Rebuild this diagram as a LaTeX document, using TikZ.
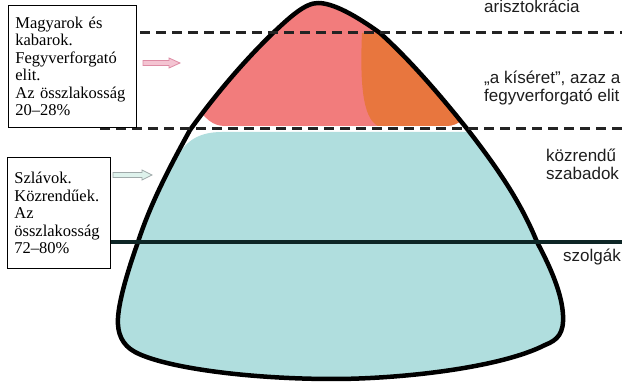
\documentclass[tikz,border=0pt]{standalone}
\usepackage{fontspec}
\setmainfont{Liberation Serif}
\newfontfamily\labelfont{Liberation Sans}
\definecolor{pinkc}{RGB}{242,124,124}
\definecolor{orangec}{RGB}{232,118,62}
\definecolor{tealc}{RGB}{176,222,222}
\definecolor{dashc}{RGB}{35,35,35}
\definecolor{solidc}{RGB}{14,38,38}
\definecolor{labc}{RGB}{30,30,30}
\definecolor{parrowfill}{RGB}{244,196,210}
\definecolor{parrowdraw}{RGB}{222,140,165}
\definecolor{garrowfill}{RGB}{222,242,236}
\definecolor{garrowdraw}{RGB}{160,170,170}
\newcommand\bellpath{(135,352) .. controls (122,345) and (117,333) .. (118,318)
 .. controls (119,300) and (128,270) .. (138,242)
 .. controls (150,205) and (168,170) .. (190,130)
 .. controls (215,95) and (245,60) .. (273,33)
 .. controls (290,17) and (305,3) .. (318,3)
 .. controls (333,3) and (355,15) .. (380,33)
 .. controls (410,60) and (440,95) .. (468,130)
 .. controls (495,165) and (520,200) .. (537,242)
 .. controls (552,270) and (562,295) .. (563,315)
 .. controls (564,333) and (558,340) .. (545,345)
 .. controls (500,368) and (400,379) .. (333,379)
 .. controls (250,379) and (165,368) .. (135,352) -- cycle}
\begin{document}
\begin{tikzpicture}[x=1pt,y=-1pt,
  outline/.style={line width=4.5pt, draw=black, line join=round},
  divider/.style={line width=3pt, draw=dashc, dash pattern=on 10pt off 6pt},
  level/.style={line width=4pt, draw=solidc},
  infobox/.style={draw=black, line width=0.8pt, fill=white, align=left, inner xsep=7pt, inner ysep=0pt, anchor=north west, font=\fontsize{16.5}{17.5}\selectfont},
  lbl/.style={font=\labelfont\fontsize{17}{18}\selectfont, align=left, anchor=base west, inner sep=0pt, text=labc}]
\fill[white] (0,0) rectangle (622,387);
\useasboundingbox (0,0) rectangle (622,387);
\begin{scope}
  \clip \bellpath;
  \fill[pinkc] (100,-10) -- (600,-10) -- (600,100) -- (470,112) .. controls (462,122) and (455,126) .. (445,126) -- (225,126) .. controls (212,126) and (205,118) .. (195,105) -- (100,40) -- cycle;
  \fill[orangec] (362,33) .. controls (360,80) and (362,118) .. (378,126) -- (445,126) .. controls (455,126) and (462,122) .. (470,112) -- (600,100) -- (600,33) -- cycle;
  \fill[tealc] (222,132) -- (600,132) -- (600,400) -- (50,400) -- (50,200) -- (176,160) .. controls (185,140) and (200,132) .. (222,132) -- cycle;
\end{scope}
\draw[outline] \bellpath;
\coordinate (d1a) at (140,33); \coordinate (d1b) at (622,33);
\coordinate (d2a) at (100,129); \coordinate (d2b) at (622,129);
\coordinate (s1a) at (110,242); \coordinate (s1b) at (622,242);
\draw[divider] (d1a) -- (d1b);
\draw[divider] (d2a) -- (d2b);
\draw[level] (s1a) -- (s1b);
\node[infobox, text width=114pt, minimum height=122pt] (magyar) at (8,5) {Magyarok és\\kabarok.\\Fegyverforgató\\elit.\\Az összlakosság\\20–28\%};
\node[infobox, text width=89pt, minimum height=111pt] (szlav) at (7,157) {Szlávok.\\Közrendűek.\\Az\\összlakosság\\72–80\%};
\filldraw[fill=parrowfill, draw=parrowdraw, line width=0.8pt] (143,60.5) -- (169,60.5) -- (169,58) -- (180,63) -- (169,68) -- (169,65.5) -- (143,65.5) -- cycle;
\filldraw[fill=garrowfill, draw=garrowdraw, line width=0.8pt] (113,172.5) -- (142,172.5) -- (142,170) -- (152,175) -- (142,180) -- (142,177.5) -- (113,177.5) -- cycle;
\node[lbl] (aris) at (484,12.5) {arisztokrácia};
\node[lbl] (kiseret) at (484,102) {„a kíséret”, azaz a\\fegyverforgató elit};
\node[lbl] (kozrendu) at (546,180) {közrendű\\szabadok};
\node[lbl] (szolga) at (563,262) {szolgák};
\end{tikzpicture}
\end{document}
